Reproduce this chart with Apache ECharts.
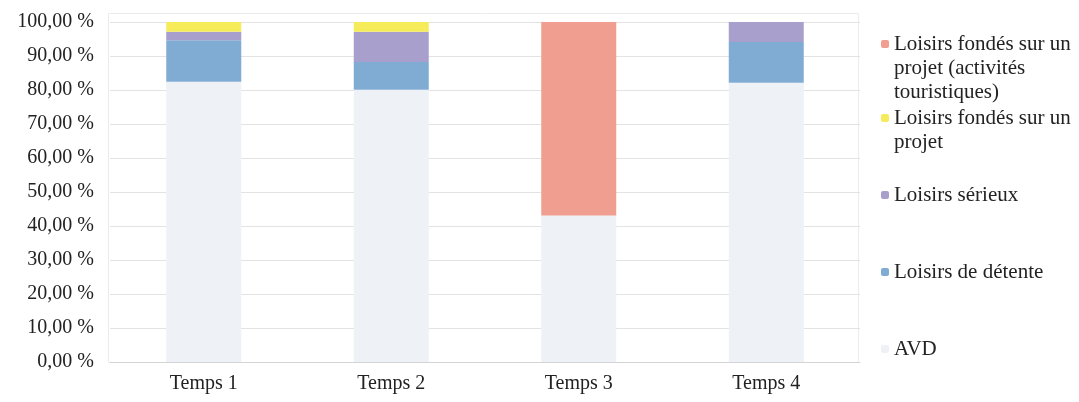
<!DOCTYPE html>
<html><head><meta charset="utf-8">
<script src="https://cdn.jsdelivr.net/npm/echarts@6/dist/echarts.min.js"></script>
<style>html,body{margin:0;padding:0;background:#fff}#c{width:1079px;height:402px}</style>
</head><body><div id="c"></div>
<script>
const categories = ['Temps 1', 'Temps 2', 'Temps 3', 'Temps 4'];
const seriesNames = ['AVD', 'Loisirs de détente', 'Loisirs sérieux', 'Loisirs fondés sur un projet', 'Loisirs fondés sur un projet (activités touristiques)'];
const avd = [82.4, 80.1, 43.1, 82.1];
const detente = [12.2, 8.1, 0, 12.0];
const serieux = [2.5, 8.9, 0, 5.9];
const projet = [2.9, 2.9, 0, 0];
const projetTour = [0, 0, 56.9, 0];
const yTicks = [0, 10, 20, 30, 40, 50, 60, 70, 80, 90, 100];

const colors = ['#eef2f6', '#80acd4', '#a89fcc', '#f6ec5a', '#ef9e90'];
const values = [avd, detente, serieux, projet, projetTour];
const legendLines = {
  'AVD': ['AVD'],
  'Loisirs de détente': ['Loisirs de détente'],
  'Loisirs sérieux': ['Loisirs sérieux'],
  'Loisirs fondés sur un projet': ['Loisirs fondés sur un', 'projet'],
  'Loisirs fondés sur un projet (activités touristiques)': ['Loisirs fondés sur un', 'projet (activités', 'touristiques)']
};
const legendFirstLineY = {
  'Loisirs fondés sur un projet (activités touristiques)': 44,
  'Loisirs fondés sur un projet': 118,
  'Loisirs sérieux': 195,
  'Loisirs de détente': 272,
  'AVD': 349
};
const LH = 24;
const font = '"Liberation Serif", "DejaVu Serif", serif';
const chart = echarts.init(document.getElementById('c'));
chart.setOption({
  animation: false,
  grid: {left: 110, right: 219, top: 22, bottom: 40, containLabel: false},
  graphic: [{type: 'rect', silent: true, z: -1,
    shape: {x: 108.5, y: 13.5, width: 750, height: 349},
    style: {fill: 'none', stroke: '#ececec', lineWidth: 1}}],
  legend: seriesNames.map(n => {
    const lines = legendLines[n];
    const extra = lines.length - 1;
    const blanks = [];
    for (let k = 0; k < extra; k++) blanks.push('{e|}');
    return {
      data: [n], left: 881, top: legendFirstLineY[n] - LH / 2 - extra * LH, orient: 'vertical',
      padding: 0, itemWidth: 8, itemHeight: 8, itemGap: 0,
      formatter: () => blanks.concat(lines.map(l => '{t|' + l + '}')).join('\n'),
      textStyle: {fontFamily: font, fontSize: 21, color: '#222', lineHeight: LH,
        rich: {
          t: {fontFamily: font, fontSize: 21, color: '#222', lineHeight: LH},
          e: {fontSize: 21, lineHeight: LH, height: LH}
        }}
    };
  }),
  xAxis: {
    type: 'category', data: categories,
    axisLine: {lineStyle: {color: '#d4d4d4'}}, axisTick: {show: false},
    axisLabel: {fontFamily: font, fontSize: 20, color: '#222', margin: 12}
  },
  yAxis: {
    type: 'value', min: 0, max: 100, interval: 10,
    axisLabel: {fontFamily: font, fontSize: 20, color: '#222', margin: 16,
      formatter: v => v.toFixed(2).replace('.', ',') + ' %'},
    splitLine: {lineStyle: {color: '#e3e3e3'}},
    axisLine: {show: false}, axisTick: {show: false}
  },
  series: seriesNames.map((n, i) => ({
    name: n, type: 'bar', stack: 'total', barWidth: 75,
    itemStyle: {color: colors[i]},
    data: values[i]
  }))
});
</script></body></html>
